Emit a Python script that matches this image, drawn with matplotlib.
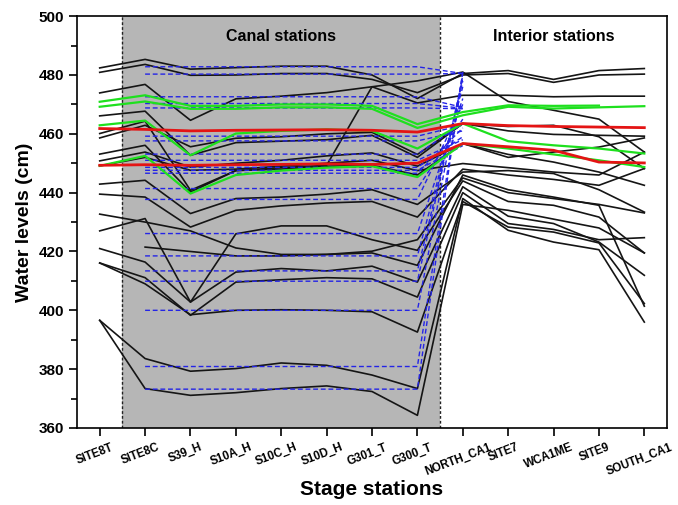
import numpy as np
import matplotlib
matplotlib.use("Agg")
import matplotlib.pyplot as plt
import matplotlib.transforms as mtransforms
from matplotlib.ticker import MultipleLocator

nan = np.nan

stations = ["SITE8T", "SITE8C", "S39_H", "S10A_H", "S10C_H", "S10D_H", "G301_T",
            "G300_T", "NORTH_CA1", "SITE7", "WCA1ME", "SITE9", "SOUTH_CA1"]

# observed stages (black), one list per event
black_lines = [
    [482.4, 485.3, 482.0, 482.5, 483.0, 483.0, 480.0, 472.0, 480.5, 481.5, 478.5, 481.5, 482.2],
    [480.9, 483.6, 479.9, 480.0, 480.5, 480.5, 478.5, 474.0, 480.0, 480.5, 477.5, 480.0, 480.3],
    [473.9, 476.8, 464.6, 471.9, 472.8, 474.0, 476.0, 478.0, 481.0, 471.0, 468.0, 465.0, 453.8],
    [466.1, 467.7, 452.7, 457.0, 457.5, 458.0, 459.5, 452.0, 463.5, 461.0, 459.8, 459.5, 459.2],
    [460.1, 464.3, 440.8, 447.5, 448.0, 449.0, 449.3, 446.0, 456.7, 453.0, 450.4, 447.0, 442.5],
    [458.6, 462.9, 455.6, 458.5, 459.0, 460.0, 460.5, 453.0, 463.5, 462.5, 462.9, 459.0, 448.2],
    [453.1, 456.1, 440.2, 447.5, 448.5, 449.3, 476.0, 470.5, 473.1, 473.1, 472.6, 472.8, 472.8],
    [450.8, 453.8, 448.7, 450.0, 451.0, 452.5, 453.5, 449.0, 456.7, 452.0, 453.8, 455.5, 458.6],
    [449.1, 452.0, 447.6, 448.0, 449.0, 450.0, 451.0, 447.5, 449.9, 448.5, 447.0, 446.0, 453.8],
    [442.9, 444.2, 432.9, 438.0, 438.5, 439.5, 441.0, 436.0, 447.0, 447.5, 446.5, 441.0, 433.4],
    [439.5, 438.5, 428.3, 434.0, 435.5, 436.5, 437.0, 431.7, 448.0, 446.0, 444.5, 442.5, 448.2],
    [432.7, 430.0, 427.0, 421.2, 419.0, 419.0, 419.5, 415.3, 446.0, 441.0, 438.5, 435.7, 401.4],
    [427.0, 431.2, 402.8, 426.0, 428.7, 428.7, 424.0, 420.4, 444.0, 437.0, 435.7, 431.7, 419.5],
    [421.0, 416.4, 402.8, 413.0, 414.2, 413.4, 415.0, 409.6, 442.0, 432.0, 429.5, 423.2, 411.9],
    [416.1, 411.1, 398.3, 409.6, 410.4, 411.1, 410.7, 404.5, 440.0, 429.5, 427.5, 424.0, 424.7],
    [416.1, 409.0, 398.5, 400.0, 400.2, 400.0, 399.5, 392.6, 437.0, 428.3, 426.6, 422.9, 402.3],
    [nan, 421.5, 420.0, 418.5, 418.5, 419.0, 420.1, 424.0, 445.0, 440.0, 438.0, 436.0, 433.1],
    [396.6, 383.6, 379.3, 380.2, 382.1, 381.3, 378.0, 373.4, 438.0, 427.2, 423.2, 420.6, 396.0],
    [396.6, 373.4, 371.1, 372.0, 373.4, 374.3, 372.4, 364.3, 436.0, 434.0, 431.0, 428.0, 419.5],
]

# simulated canal stages (blue dashed): flat level SITE8C..G300_T, then value at NORTH_CA1
blue_levels = [482.8, 480.3, 472.6, 470.3, 468.8, 459.2, 457.6, 453.1, 451.0, 448.6, 447.6,
               446.6, 441.4, 437.7, 426.1, 418.5, 413.4, 409.9, 400.0, 380.9, 373.2]
blue_ends = [480.5, 480.5, 469.0, 468.7, 468.5, 463.0, 461.0, 463.5, 458.0, 459.0, 456.0,
             462.0, 465.0, 470.0, 472.0, 476.0, 478.0, 479.0, 480.0, 481.0, 481.0]

green_lines = [
    [470.9, 473.1, 469.5, 469.5, 470.0, 470.0, 469.5, 463.3, 467.4, 469.7, 469.5, 469.6, nan],
    [469.2, 471.0, 468.5, 468.5, 469.0, 469.0, 468.5, 462.0, 466.3, 469.2, 468.6, 469.0, 469.4],
    [462.9, 464.5, 452.7, 460.1, 461.0, 461.5, 461.0, 455.0, 463.5, 457.5, 456.1, 455.0, 453.3],
    [449.1, 452.5, 439.7, 446.0, 447.5, 448.5, 449.0, 445.3, 456.7, 455.0, 453.0, 451.0, 448.7],
]

red_lines = [
    [461.8, 461.5, 461.0, 461.2, 461.3, 461.4, 461.2, 460.6, 463.5, 462.8, 462.5, 462.3, 462.1],
    [449.3, 449.5, 449.3, 449.5, 449.6, 449.8, 449.6, 450.0, 456.7, 455.6, 454.4, 450.4, 450.1],
]


def main():
    plt.rcParams["font.family"] = ["Liberation Sans", "DejaVu Sans"]
    fig = plt.figure(figsize=(6.78, 5.05), dpi=100)
    ax = fig.add_axes([0.1136, 0.1525, 0.8702, 0.8155])
    x = np.arange(len(stations))

    ax.axvspan(0.5, 7.5, color="#b6b6b6", zorder=0, lw=0)
    for xv in (0.5, 7.5):
        ax.axvline(xv, color="#222222", ls=(0, (2, 1.5)), lw=1.0, zorder=1)

    for vals in black_lines:
        ax.plot(x, vals, color="#151515", lw=1.2, zorder=2)

    xb = x[1:9]
    for lvl, end in zip(blue_levels, blue_ends):
        ax.plot(xb, [lvl] * 7 + [end], color="#2424e6", lw=1.0,
                dashes=(3.5, 2), zorder=3)

    for vals in green_lines:
        ax.plot(x, vals, color="#1ee01e", lw=1.6, zorder=4)
    for vals in red_lines:
        ax.plot(x, vals, color="#e41414", lw=2.0, zorder=5)

    ax.set_xlim(-0.5, 12.5)
    ax.set_ylim(360, 500)
    ax.yaxis.set_major_locator(MultipleLocator(20))
    ax.yaxis.set_minor_locator(MultipleLocator(10))
    ax.tick_params(axis="y", which="major", length=6, width=1.2, labelsize=11)
    ax.tick_params(axis="y", which="minor", length=4, width=1.2)
    ax.tick_params(axis="x", length=6, width=1.2)
    for lab in ax.get_yticklabels():
        lab.set_fontweight("bold")
    ax.set_xticks(x)
    ax.set_xticklabels(stations, rotation=21, ha="center", fontsize=8.3,
                       fontweight="bold")
    shift = mtransforms.ScaledTranslation(-5 / 100, 0, fig.dpi_scale_trans)
    for lab in ax.get_xticklabels():
        lab.set_transform(lab.get_transform() + shift)
    for sp in ax.spines.values():
        sp.set_linewidth(1.2)

    ax.text(4.0, 493, "Canal stations", ha="center", va="center",
            fontsize=11.5, fontweight="bold")
    ax.text(10.0, 493, "Interior stations", ha="center", va="center",
            fontsize=11.5, fontweight="bold")
    ax.set_ylabel("Water levels (cm)", fontsize=14, fontweight="bold")
    ax.set_xlabel("Stage stations", fontsize=15, fontweight="bold", labelpad=2)

    fig.savefig("out.png", dpi=100)


if __name__ == "__main__":
    main()
